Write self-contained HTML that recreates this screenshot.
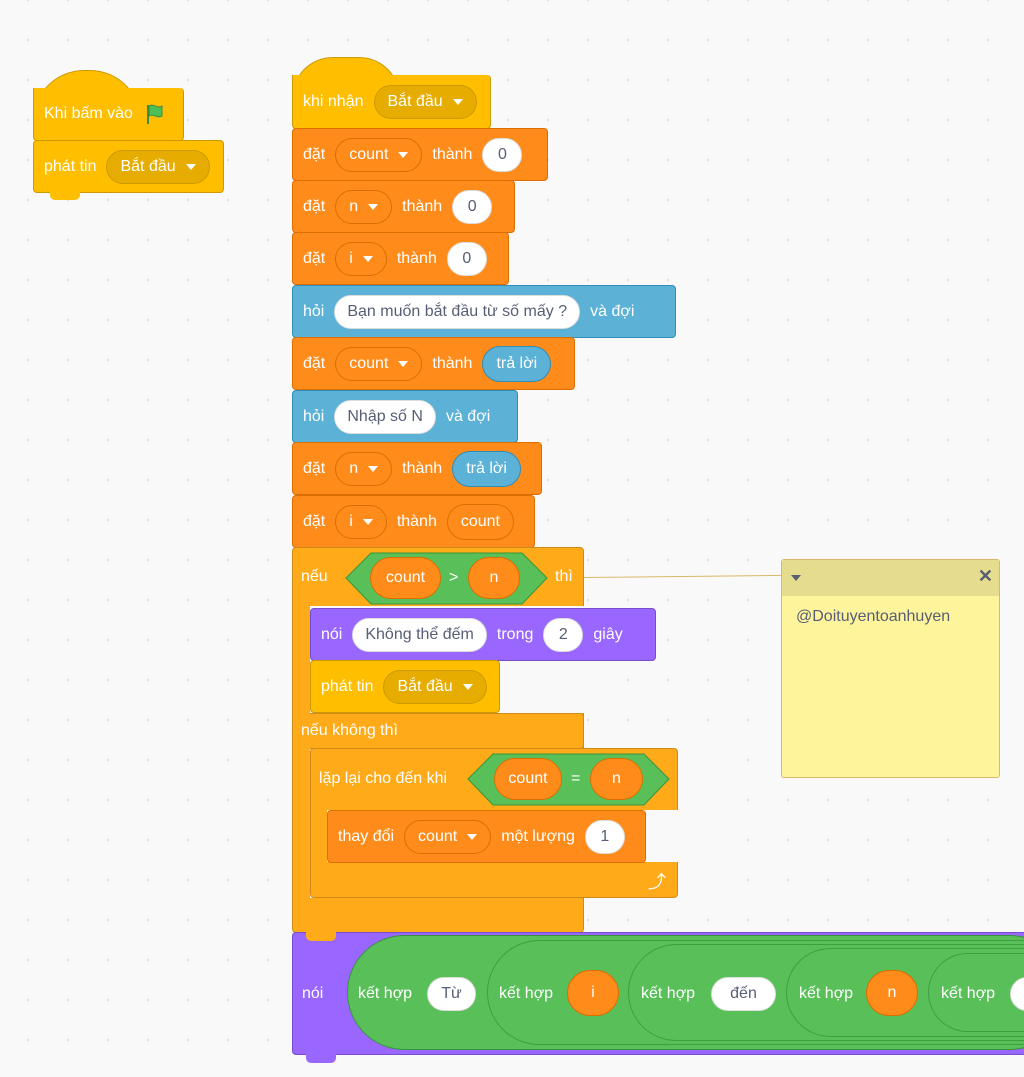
<!DOCTYPE html>
<html><head><meta charset="utf-8"><style>
body{margin:0;width:1024px;height:1077px;overflow:hidden;background:#F9F9F9;background-image:radial-gradient(#dcdcdc 1px,transparent 1.3px);background-size:40px 40px;background-position:8px 20px;font-family:"Liberation Sans","Noto Sans CJK SC",sans-serif;position:relative}
.b{position:absolute;display:flex;align-items:center;padding-left:10px;gap:10px;color:#fff;font-size:16px;border-radius:4px;box-sizing:border-box;white-space:nowrap}
.ev{background:#FFBF00;border:1px solid #CC9900}
.va{background:#FF8C1A;border:1px solid #DB6E00}
.se{background:#5CB1D6;border:1px solid #2E8EB8}
.co{background:#FFAB19;border:1px solid #CF8B17}
.lo{background:#9966FF;border:1px solid #774DCB}
.in{background:#fff;color:#575E75;border-radius:17px;height:34px;min-width:40px;justify-content:center;padding:0 12px;display:flex;align-items:center;border:1px solid #ddd;box-sizing:border-box}
.dd{border-radius:17px;height:34px;padding:0 13px 0 13px;display:flex;align-items:center;box-sizing:border-box;color:#fff}
.dv{background:#FF8C1A;border:1px solid #DB6E00}
.de{background:#E6AC00;border:1px solid #CC9900}
.dd:after{content:"";border:5px solid transparent;border-top:6px solid #fff;margin:6px 0 0 10px}
.rep{border-radius:18px;height:36px;padding:0 13px;display:flex;align-items:center;box-sizing:border-box;color:#fff}
.ro{background:#FF8C1A;border:1px solid #DB6E00}
.rs{background:#5CB1D6;border:1px solid #2E8EB8}
.tab{position:absolute;height:8px;width:30px;border-radius:0 0 5px 5px}
.t{position:absolute;color:#fff;font-size:16px;white-space:nowrap}
</style></head><body>

<div style="position:absolute;left:33px;top:70px;width:106px;height:50px;border-radius:55px 55px 0 0;background:#FFBF00;border:1px solid #CC9900;border-bottom:none"></div>
<div class="b ev" style="left:33px;top:88px;width:151px;height:53px;border-top:none;border-radius:0 4px 4px 4px">Khi bấm vào <svg width="24" height="24" viewBox="0 0 24 24"><path d="M5 3v19" stroke="#3D8A3D" stroke-width="2"/><path d="M6 4c4-3 8 3 13 0v10c-5 3-9-3-13 0z" fill="#4CBF56" stroke="#3D8A3D"/></svg></div>
<div class="b ev" style="left:33px;top:140px;width:191px;height:53px">phát tin <span class="dd de">Bắt đầu</span></div>
<div class="tab" style="left:50px;top:192px;background:#FFBF00"></div>

<div style="position:absolute;left:292px;top:57px;width:106px;height:40px;border-radius:55px 55px 0 0;background:#FFBF00;border:1px solid #CC9900;border-bottom:none"></div>
<div class="b ev" style="left:292px;top:75px;width:199px;height:54px;border-top:none;border-radius:0 4px 4px 4px">khi nhận <span class="dd de">Bắt đầu</span></div>

<div class="b va" style="left:292px;top:128px;width:256px;height:53px">đặt <span class="dd dv">count</span> thành <span class="in">0</span></div>
<div class="b va" style="left:292px;top:180px;width:223px;height:53px">đặt <span class="dd dv">n</span> thành <span class="in">0</span></div>
<div class="b va" style="left:292px;top:232px;width:217px;height:53px">đặt <span class="dd dv">i</span> thành <span class="in">0</span></div>
<div class="b se" style="left:292px;top:285px;width:384px;height:53px">hỏi <span class="in">Bạn muốn bắt đầu từ số mấy ?</span> và đợi</div>
<div class="b va" style="left:292px;top:337px;width:283px;height:53px">đặt <span class="dd dv">count</span> thành <span class="rep rs">trả lời</span></div>
<div class="b se" style="left:292px;top:390px;width:226px;height:53px">hỏi <span class="in">Nhập số N</span> và đợi</div>
<div class="b va" style="left:292px;top:442px;width:250px;height:53px">đặt <span class="dd dv">n</span> thành <span class="rep rs">trả lời</span></div>
<div class="b va" style="left:292px;top:495px;width:243px;height:53px">đặt <span class="dd dv">i</span> thành <span class="rep ro">count</span></div>

<div class="co" style="position:absolute;left:292px;top:547px;width:292px;height:386px;border-radius:4px;box-sizing:border-box"></div>
<div style="position:absolute;left:310px;top:606px;width:300px;height:107px;background:#F9F9F9"></div>
<div style="position:absolute;left:310px;top:748px;width:400px;height:150px;background:#F9F9F9"></div>
<div class="co" style="position:absolute;left:310px;top:713px;width:274px;height:36px;border-left:none;border-radius:0 4px 4px 0;box-sizing:border-box"></div>
<div class="t" style="left:301px;top:568px">nếu</div>
<svg style="position:absolute;left:345px;top:552px" width="203" height="53"><polygon points="1,26 26,1 177,1 202,26 177,52 26,52" fill="#59C059" stroke="#389438"/></svg>
<div class="rep ro" style="position:absolute;left:370px;top:557px;width:71px;justify-content:center;height:42px;border-radius:21px">count</div>
<div class="t" style="left:449px;top:569px">&gt;</div>
<div class="rep ro" style="position:absolute;left:468px;top:557px;width:52px;justify-content:center;height:42px;border-radius:21px">n</div>
<div class="t" style="left:555px;top:568px">thì</div>
<div class="t" style="left:301px;top:722px">nếu không thì</div>

<div class="b lo" style="left:310px;top:608px;width:346px;height:53px">nói <span class="in">Không thể đếm</span> trong <span class="in">2</span> giây</div>
<div class="b ev" style="left:310px;top:660px;width:190px;height:53px">phát tin <span class="dd de">Bắt đầu</span></div>

<div class="co" style="position:absolute;left:310px;top:748px;width:368px;height:150px;border-radius:4px;box-sizing:border-box"></div>
<div style="position:absolute;left:327px;top:810px;width:360px;height:52px;background:#F9F9F9"></div>
<div class="t" style="left:319px;top:770px">lặp lại cho đến khi</div>
<svg style="position:absolute;left:467px;top:753px" width="203" height="53"><polygon points="1,26 26,1 177,1 202,26 177,52 26,52" fill="#59C059" stroke="#389438"/></svg>
<div class="rep ro" style="position:absolute;left:494px;top:758px;width:68px;justify-content:center;height:42px;border-radius:21px">count</div>
<div class="t" style="left:571px;top:770px">=</div>
<div class="rep ro" style="position:absolute;left:590px;top:758px;width:53px;justify-content:center;height:42px;border-radius:21px">n</div>
<div class="b va" style="left:327px;top:810px;width:319px;height:53px">thay đổi <span class="dd dv">count</span> một lượng <span class="in">1</span></div>
<div class="t" style="left:648px;top:868px;font-size:18px">⤴</div>

<div class="lo" style="position:absolute;left:292px;top:932px;width:740px;height:123px;border-radius:4px;box-sizing:border-box"></div>
<div class="tab" style="left:306px;top:1054px;background:#9966FF;height:9px"></div>
<div class="tab" style="left:306px;top:932px;background:#FFAB19;height:9px"></div>
<div class="t" style="left:302px;top:985px">nói</div>
<div style="position:absolute;left:347px;top:935px;width:720px;height:115px;border-radius:58px;background:#59C059;border:1px solid #389438;box-sizing:border-box"></div>
<div style="position:absolute;left:487px;top:940px;width:600px;height:105px;border-radius:53px;border:1px solid #3f9f3f;box-sizing:border-box"></div>
<div style="position:absolute;left:628px;top:944px;width:500px;height:97px;border-radius:49px;border:1px solid #3f9f3f;box-sizing:border-box"></div>
<div style="position:absolute;left:786px;top:948px;width:400px;height:89px;border-radius:45px;border:1px solid #3f9f3f;box-sizing:border-box"></div>
<div style="position:absolute;left:928px;top:953px;width:300px;height:79px;border-radius:40px;border:1px solid #3f9f3f;box-sizing:border-box"></div>
<div class="t" style="left:358px;top:985px">kết hợp</div>
<div class="in" style="position:absolute;left:427px;top:977px;width:49px">Từ</div>
<div class="t" style="left:499px;top:985px">kết hợp</div>
<div class="rep ro" style="position:absolute;left:567px;top:970px;width:52px;height:46px;border-radius:23px;justify-content:center">i</div>
<div class="t" style="left:641px;top:985px">kết hợp</div>
<div class="in" style="position:absolute;left:711px;top:977px;width:65px">đến</div>
<div class="t" style="left:799px;top:985px">kết hợp</div>
<div class="rep ro" style="position:absolute;left:866px;top:970px;width:52px;height:46px;border-radius:23px;justify-content:center">n</div>
<div class="t" style="left:941px;top:985px">kết hợp</div>
<div class="in" style="position:absolute;left:1010px;top:977px;width:40px"></div>

<div style="position:absolute;left:584px;top:577px;width:198px;height:1px;background:#D9B967;transform:rotate(-0.6deg);transform-origin:left"></div>
<div style="position:absolute;left:781px;top:559px;width:219px;height:219px;background:#FEF49C;border:1px solid #D9B967;box-sizing:border-box;border-radius:3px">
<div style="height:36px;background:#E5DC8E;position:relative">
<span style="position:absolute;left:9px;top:15px;border:5px solid transparent;border-top:6px solid #575E75"></span>
<span style="position:absolute;right:6px;top:6px;color:#575E75;font-size:18px;font-weight:bold">✕</span></div>
<div style="padding:12px 0 0 14px;color:#575E75;font-size:16px">@Doituyentoanhuyen</div>
</div>
</body></html>
